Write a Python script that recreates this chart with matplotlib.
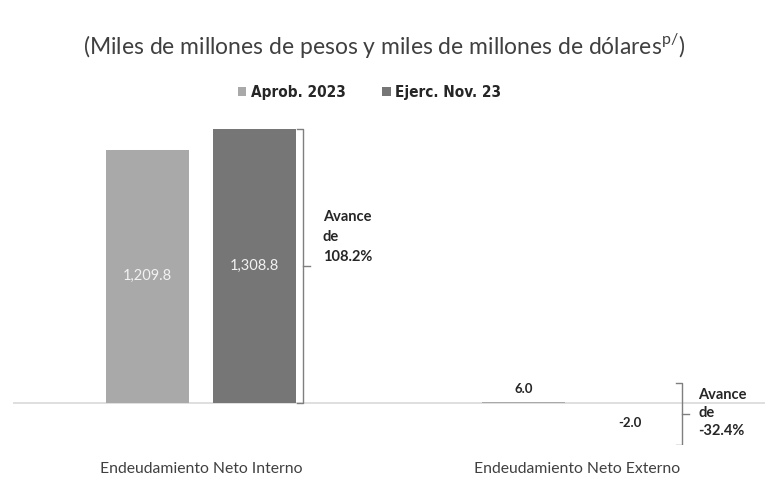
import matplotlib
matplotlib.use("Agg")
import matplotlib.pyplot as plt
import numpy as np

categories = ["Endeudamiento Neto Interno", "Endeudamiento Neto Externo"]
series_names = ["Aprob. 2023", "Ejerc. Nov. 23"]
aprob = [1209.8, 6.0]
ejerc = [1308.8, -2.0]
avance = ["108.2%", "-32.4%"]
title = "(Miles de millones de pesos y miles de millones de dólares$^{\\mathregular{p/}}$)"

col_a = "#A9A9A9"
col_e = "#767676"
txt_col = "#404040"

fig = plt.figure(figsize=(7.68, 4.78), dpi=100)
ax = fig.add_axes([13/768, 0.0693, 752/768, 0.701])
ax.set_xlim(-0.5, 1.5)
ax.set_ylim(-200, 1400)
for s in ax.spines.values():
    s.set_visible(False)
ax.set_xticks([])
ax.set_yticks([])

x = np.arange(len(categories))
w = 0.22
off = 0.142
b1 = ax.bar(x - off, aprob, w, color=col_a, label=series_names[0], zorder=2)
b2 = ax.bar(x + off, ejerc, w, color=col_e, label=series_names[1], zorder=2)
ax.axhline(0, color="#D9D9D9", lw=1.2, zorder=1)

# value labels
for i in range(len(categories)):
    for xv, val in ((x[i] - off, aprob[i]), (x[i] + off, ejerc[i])):
        lbl = f"{val:,.1f}"
        if abs(val) > 100:
            ax.text(xv, val / 2, lbl, ha="center", va="center", color="#F2F2F2",
                    fontsize=10.5, family="Lato")
        elif val >= 0:
            ax.annotate(lbl, (xv, val), xytext=(0, 5), textcoords="offset points",
                        ha="center", va="bottom", fontsize=9.5, fontweight="bold",
                        color="#262626", family="Lato")
        else:
            ax.annotate(lbl, (xv, val), xytext=(0, -10), textcoords="offset points",
                        ha="center", va="top", fontsize=9.5, fontweight="bold",
                        color="#262626", family="Lato")

# brackets
def bracket(xb, ytop, ybot, arm=0.015, tick=0.018):
    kw = dict(color="#7F7F7F", lw=1.0, zorder=3)
    ax.plot([xb - arm, xb, xb, xb - arm], [ytop, ytop, ybot, ybot], **kw)
    ym = (ytop + ybot) / 2
    ax.plot([xb, xb + tick], [ym, ym], **kw)
    return ym

ym1 = bracket(x[0] + off + w / 2 + 0.019, max(ejerc[0], aprob[0]), 0)
ax.text(x[0] + 0.324, ym1 + 140, "Avance\nde\n" + avance[0], ha="left", va="center",
        fontsize=10.5, fontweight="bold", color="#262626", family="Lato", linespacing=1.55)
ym2 = bracket(x[1] + off + w / 2 + 0.027, 95, -200)
ax.text(x[1] + 0.322, ym2 + 5, "Avance\nde\n" + avance[1], ha="left", va="center",
        fontsize=10.5, fontweight="bold", color="#262626", family="Lato", linespacing=1.4)

# category labels
for i, c in enumerate(categories):
    ax.annotate(c, (x[i], 0), xycoords=("data", "axes fraction"), xytext=(0, -12),
                textcoords="offset points", ha="center", va="top", fontsize=11.3,
                color=txt_col, family="Lato")

fig.text(0.5, 0.905, title, ha="center", va="center", fontsize=16.5, color=txt_col,
         family="Lato")

leg = fig.legend(handles=[b1, b2], labels=series_names, loc="center",
                 bbox_to_anchor=(0.481, 0.807), ncol=2, frameon=False,
                 handlelength=0.55, handleheight=0.55, handletextpad=0.3,
                 columnspacing=2.4,
                 prop={"family": "DejaVu Sans", "stretch": "condensed",
                       "weight": "bold", "size": 11})
for t in leg.get_texts():
    t.set_color("#262626")

fig.savefig("out.png", dpi=100)
